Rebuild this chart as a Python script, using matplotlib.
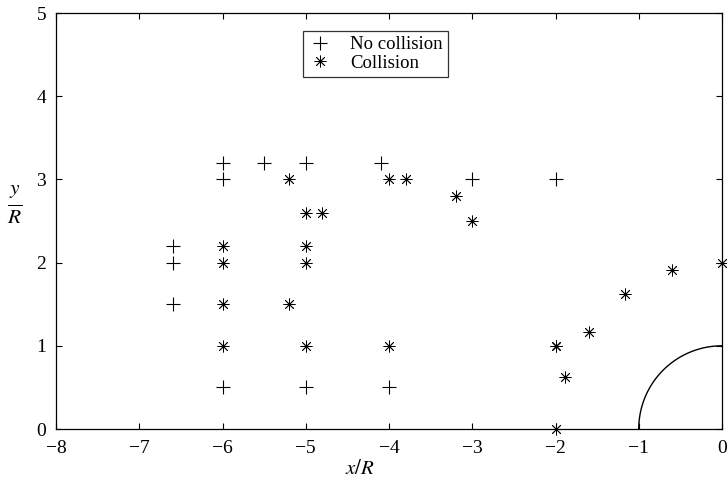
import matplotlib
matplotlib.use("Agg")
import matplotlib.pyplot as plt
import numpy as np

plt.rcParams["font.family"] = ["Liberation Serif", "DejaVu Serif"]
plt.rcParams["mathtext.fontset"] = "stix"

# no collision runs (+)
no_coll_x = [-6.6, -6.6, -6.6, -6.0, -6.0, -6.0, -5.5, -5.0, -5.0, -4.1, -4.0, -3.0, -2.0]
no_coll_y = [2.2, 2.0, 1.5, 3.2, 3.0, 0.5, 3.2, 3.2, 0.5, 3.2, 0.5, 3.0, 3.0]

# collision runs (*)
coll_x = [-5.2, -4.0, -3.8, -3.2, -3.0, -5.0, -4.8, -6.0, -5.0, -6.0, -5.0,
          -6.0, -5.2, -6.0, -5.0, -4.0, -2.0, -2.0, -1.89, -1.60, -1.16, -0.60, 0.0, -2.0]
coll_y = [3.0, 3.0, 3.0, 2.8, 2.5, 2.6, 2.6, 2.2, 2.2, 2.0, 2.0,
          1.5, 1.5, 1.0, 1.0, 1.0, 1.0, 1.0, 0.62, 1.17, 1.62, 1.91, 2.0, 0.0]

fig = plt.figure(figsize=(7.27, 4.87), dpi=100)
ax = fig.add_axes([56 / 727, 1 - 429 / 487, 666 / 727, 416 / 487])

ax.plot(no_coll_x, no_coll_y, linestyle="none", marker="+", markersize=10,
        markeredgewidth=0.8, color="black", label="No collision")
ax.plot(coll_x, coll_y, linestyle="none", marker=(8, 2, 0), markersize=8.5,
        markeredgewidth=0.6, color="black", label="Collision", clip_on=False)

# quarter circle of radius 1 at the origin
theta = np.linspace(0, np.pi / 2, 100)
ax.plot(-np.cos(theta), np.sin(theta), color="black", linewidth=1.0)

ax.set_xlim(-8, 0)
ax.set_ylim(0, 5)
ax.set_xticks(range(-8, 1))
ax.set_yticks(range(0, 6))
ax.set_xticklabels(["\u22128", "\u22127", "\u22126", "\u22125", "\u22124",
                    "\u22123", "\u22122", "\u22121", "0"])
ax.tick_params(direction="in", top=True, right=True, length=4, width=0.8,
               labelsize=14)
ax.tick_params(axis="x", pad=8)
ax.tick_params(axis="y", pad=7)
for spine in ax.spines.values():
    spine.set_linewidth(0.9)

fig.text(360 / 727, 1 - 469 / 487, r"$x/R$", ha="center", va="center", fontsize=15)
fig.text(15 / 727, 1 - 205 / 487, r"$\frac{y}{R}$", ha="center", va="center", fontsize=22)

leg = ax.legend(loc="upper left", bbox_to_anchor=(0.357, 0.98), frameon=True,
                fancybox=False, edgecolor="black", fontsize=13.5, handlelength=1.2,
                borderpad=0.3, labelspacing=0.05, handletextpad=1.0)
leg.get_frame().set_linewidth(0.9)

fig.savefig("out.png", dpi=100)
